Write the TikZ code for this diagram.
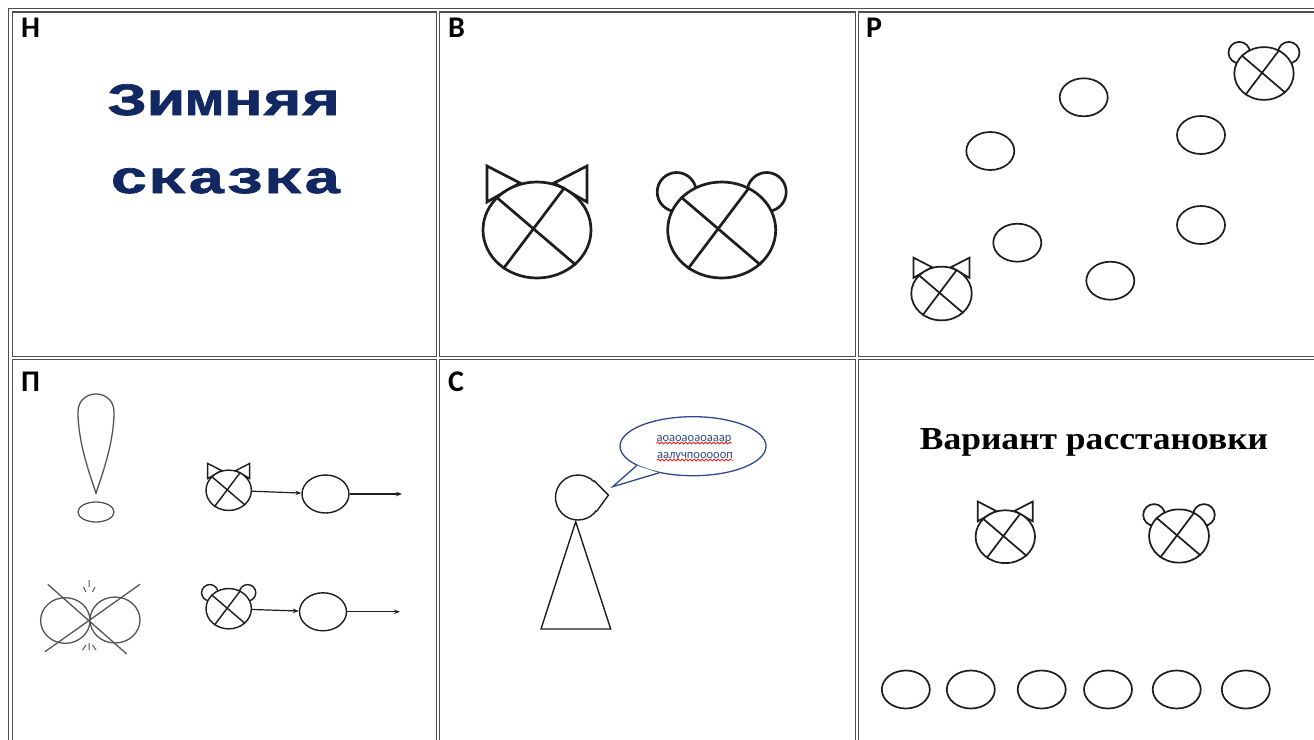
\documentclass[tikz,border=0pt]{standalone}
\usepackage{fontspec}
\setmainfont{Carlito}
\newfontfamily\titlefont[FakeStretch=1.40, FakeBold=1.6]{Liberation Mono}
\newfontfamily\captionfont[FakeStretch=1.11]{Liberation Serif}
\usetikzlibrary{shapes.geometric, arrows.meta, decorations.pathmorphing}

\definecolor{ink}{RGB}{30,30,30}
\definecolor{pencil}{RGB}{85,85,85}
\definecolor{framegray}{RGB}{80,80,80}
\definecolor{navy}{RGB}{18,40,98}
\definecolor{bubbleblue}{RGB}{47,74,140}

\tikzset{
  cellframe/.style={draw=framegray, line width=1.3pt},
  celltag/.style={anchor=base west, inner sep=0pt, font=\bfseries\fontsize{30}{30}\selectfont},
  head/.style={ellipse, draw=ink, fill=white, inner sep=0pt},
  oval/.style={ellipse, draw=ink, line width=1.7pt, inner sep=0pt,
    minimum width=48pt, minimum height=38pt},
  sketch/.style={draw=pencil, line width=1.3pt},
  pointer/.style={draw=ink, line width=1.2pt, -{Stealth[length=6pt,width=4.5pt]}},
}

% cat face: name, centre, scale
\newcommand{\catface}[3]{%
  \begin{scope}[shift={(#2)}, scale=#3, line width={0.5pt+2.2pt*#3}]
    \draw[ink] (-50,-28) -- (-50,-64) -- (-17,-47) -- cycle;
    \draw[ink] (50,-28) -- (50,-64) -- (17,-47) -- cycle;
    \node[head, minimum width={108pt*#3}, minimum height={96pt*#3}] (#1) at (0,0) {};
    \draw[ink] (#1.141) -- (#1.-42) (#1.57) -- (#1.229);
  \end{scope}}

% bear face: name, centre, scale
\newcommand{\bearface}[3]{%
  \begin{scope}[shift={(#2)}, scale=#3, line width={0.5pt+2.2pt*#3}]
    \draw[ink] (-45,-38) circle (19.5) (45,-38) circle (19.5);
    \node[head, minimum width={108pt*#3}, minimum height={96pt*#3}] (#1) at (0,0) {};
    \draw[ink] (#1.141) -- (#1.-42) (#1.57) -- (#1.229);
  \end{scope}}

\begin{document}
\begin{tikzpicture}[x=1pt, y=-1pt]
  \useasboundingbox (0,0) rectangle (1314,739);
  \clip (0,0) rectangle (1314,739);
  \fill[white] (0,0) rectangle (1314,739);

  % ── table frame and its six cells ────────────────────────────────
  \draw[cellframe] (8.5,8.5) rectangle (1340,770);
  \foreach \xa/\xb in {12.5/436.5, 439.5/855.5, 858.5/1332}
    \foreach \ya/\yb in {12/356.5, 359.5/765}
      \draw[cellframe] (\xa,\ya) rectangle (\xb,\yb);

  \node[celltag] (tagN) at (21,37.5)  {Н};
  \node[celltag] (tagV) at (448,37.5) {В};
  \node[celltag] (tagR) at (866,37.5) {Р};
  \node[celltag] (tagP) at (21,391)   {П};
  \node[celltag] (tagS) at (448,391)  {С};

  % ── Н: title ─────────────────────────────────────────────────────
  \node[anchor=base, inner sep=0pt, text=navy,
        font=\titlefont\bfseries\fontsize{46}{46}\selectfont] (title1) at (224,115) {Зимняя};
  \node[anchor=base, inner sep=0pt, text=navy,
        font=\titlefont\bfseries\fontsize{46}{46}\selectfont] (title2) at (226,193) {сказка};

  % ── В: cat and bear ──────────────────────────────────────────────
  \catface{catV}{537,230}{1}
  \bearface{bearV}{721.7,230}{1}

  % ── Р: cat, bear and the places ──────────────────────────────────
  \catface{catR}{941.5,293.5}{0.56}
  \bearface{bearR}{1264,73.5}{0.55}
  \node[oval] (r1) at (1083.7,97.3) {};
  \node[oval] (r2) at (990.3,151)   {};
  \node[oval] (r3) at (1201,135)    {};
  \node[oval] (r4) at (1017.3,242.7) {};
  \node[oval] (r5) at (1201,225)    {};
  \node[oval] (r6) at (1110.3,280.7) {};

  % ── П: exclamation mark ──────────────────────────────────────────
  \draw[sketch] (96,493) .. controls (88,470) and (78,440) .. (78,412)
                .. controls (78,388) and (114,388) .. (114,412)
                .. controls (114,440) and (104,470) .. (96,493) -- cycle;
  \draw[sketch] (96,512) ellipse (18 and 10);

  % crossed pair
  \draw[sketch] (65.3,620.5) ellipse (24.7 and 22.8) (115,620) ellipse (25 and 23);
  \draw[sketch] (47.7,584.3) -- (126.7,654) (140,584.3) -- (45,651.7);
  \draw[sketch, line width=1pt] (89,580) -- (89,587) (83.5,587) -- (86,592) (95,587) -- (92.5,592)
                                (89,643) -- (89,650) (86,645) -- (82.5,650) (92.5,645) -- (96,650);

  % cat and bear leading
  \catface{catP}{228.7,490.3}{0.42}
  \node[oval, line width=1.4pt, minimum width=47pt] (p1) at (325.5,494) {};
  \coordinate (p1end) at (402,494);
  \draw[pointer] (catP) -- (p1);
  \draw[pointer] (p1) -- (p1end);

  \bearface{bearP}{228.7,608.7}{0.42}
  \node[oval, line width=1.4pt, minimum width=47pt] (p2) at (323,611.8) {};
  \coordinate (p2end) at (400,611.8);
  \draw[pointer] (bearP) -- (p2);
  \draw[pointer] (p2) -- (p2end);

  % ── С: speaker with a bubble ─────────────────────────────────────
  \node[circle, draw=ink, fill=white, line width=1.4pt, inner sep=0pt,
        minimum size=45pt] (headS) at (578,497.5) {};
  \coordinate (nose) at (608.5,495);
  \fill[white] (headS.47) -- (nose) -- (headS.-38) -- cycle;
  \draw[ink, line width=1.4pt] (headS.47) -- (nose) -- (headS.-38);
  \coordinate (neck) at (575.7,521.7);
  \draw[ink, line width=1.4pt] (neck) -- (610.7,629) -- (541,629) -- cycle;

  \node[ellipse, draw=bubbleblue, fill=white, line width=1.3pt, inner sep=0pt,
        minimum width=146pt, minimum height=59pt] (bubble) at (693,446.2) {};
  \coordinate (btip) at (612.7,486.7);
  \fill[white] (bubble.199) -- (btip) -- (bubble.218) -- cycle;
  \draw[bubbleblue, line width=1.3pt] (bubble.199) -- (btip) -- (bubble.218);
  \node[anchor=base, inner sep=0pt, text=bubbleblue, font=\fontsize{12.5}{12.5}\selectfont]
       (say1) at (694,441) {аоаоаоаоааар};
  \node[anchor=base, inner sep=0pt, text=bubbleblue, font=\fontsize{12.5}{12.5}\selectfont]
       (say2) at (695,458) {аалучпоооооп};
  \draw[red, line width=0.7pt, decorate, decoration={snake, amplitude=1.1pt, segment length=4pt}]
       ([yshift=-2pt]say1.base west) -- ([yshift=-2pt]say1.base east);
  \draw[red, line width=0.7pt, decorate, decoration={snake, amplitude=1.1pt, segment length=4pt}]
       ([yshift=-2pt]say2.base west) -- ([yshift=-2pt]say2.base east);

  % ── arrangement ──────────────────────────────────────────────────
  \node[anchor=base, inner sep=0pt, font=\captionfont\bfseries\fontsize{32}{32}\selectfont]
       (variant) at (1094,449.3) {Вариант расстановки};
  \catface{catA}{1005.3,536.7}{0.55}
  \bearface{bearA}{1179,536}{0.555}
  \foreach \i/\x in {1/905.8, 2/970.8, 3/1041.7, 4/1108, 5/1176.7, 6/1245.8}
    \node[oval] (seat\i) at (\x,689.5) {};
\end{tikzpicture}
\end{document}
